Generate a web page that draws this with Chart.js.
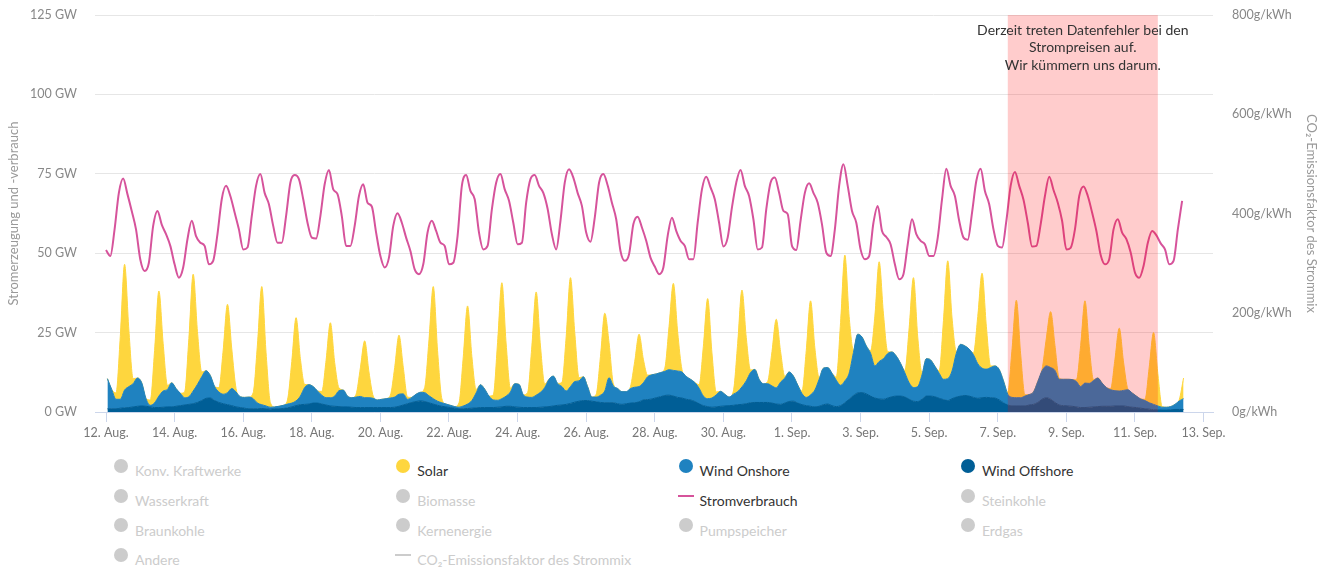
<!DOCTYPE html>
<html lang="de">
<head>
<meta charset="utf-8">
<title>Stromerzeugung und -verbrauch</title>
<script src="https://cdn.jsdelivr.net/npm/chart.js@4.4.1/dist/chart.umd.min.js"></script>
<style>
  html, body { margin: 0; padding: 0; background: #fff; }
  #wrap { position: relative; width: 1333px; height: 569px; overflow: hidden; }
  #chart { position: absolute; left: 0; top: 0; }
  #legend {
    position: absolute; left: 113px; top: 456px;
    display: grid; grid-template-columns: repeat(4, 282.3px); grid-auto-rows: 29.7px;
    font: 14px Lato, sans-serif;
  }
  .item { display: flex; align-items: center; color: #333; white-space: nowrap; }
  .item.off { color: #cccccc; }
  .sym { width: 16px; height: 14px; margin-right: 6px; position: relative; top: -5px; flex: none; }
  .sym.dot::after { content: ''; position: absolute; left: 1px; top: 0; width: 14px; height: 14px; border-radius: 50%; background: var(--c); }
  .sym.line::after { content: ''; position: absolute; left: 0; top: 6px; width: 16px; height: 2px; background: var(--c); }
</style>
</head>
<body>
<div id="wrap">
  <canvas id="chart" width="1333" height="450"></canvas>
  <div id="legend"></div>
</div>
<script>
// time axis: hours after 12 Aug 00:00
const axisMinHour = -7.7;
const axisMaxHour = 774.6;
const tickHours = [0, 48, 96, 144, 192, 240, 288, 336, 384, 432, 480, 528, 576, 624, 672, 720, 768];
const tickLabels = ['12. Aug.', '14. Aug.', '16. Aug.', '18. Aug.', '20. Aug.', '22. Aug.', '24. Aug.', '26. Aug.',
  '28. Aug.', '30. Aug.', '1. Sep.', '3. Sep.', '5. Sep.', '7. Sep.', '9. Sep.', '11. Sep.', '13. Sep.'];

// generation samples at 01, 04, 07, ... 22 h; load samples at 00, 03, ... 21 h
const genFirstHour = 1;
const loadFirstHour = 0;
const stepHours = 3;

// GW, one row per day (12 Aug .. 12 Sep)
const windOffshore = [
  1.0, 1.0, 1.0, 1.2, 1.3, 1.4, 1.6, 1.8,
  1.9, 1.8, 1.6, 1.4, 1.4, 1.5, 1.6, 1.6,
  1.8, 2.0, 2.2, 2.4, 2.6, 3.0, 3.6, 4.3,
  4.4, 3.6, 3.0, 2.6, 2.3, 2.0, 1.6, 1.4,
  1.2, 1.0, 1.0, 1.0, 1.1, 1.0, 0.9, 1.0,
  1.0, 1.1, 1.3, 1.6, 2.0, 2.3, 2.4, 2.5,
  2.8, 2.8, 2.5, 2.2, 1.9, 1.8, 1.7, 1.6,
  1.6, 1.5, 1.4, 1.4, 1.4, 1.4, 1.4, 1.4,
  1.4, 1.4, 1.4, 1.5, 1.8, 2.2, 2.6, 3.0,
  3.3, 3.5, 3.3, 2.9, 2.5, 2.1, 1.8, 1.6,
  1.4, 1.2, 1.0, 1.0, 1.1, 1.2, 1.3, 1.4,
  1.4, 1.4, 1.4, 1.5, 1.6, 1.8, 1.8, 1.6,
  1.5, 1.4, 1.4, 1.4, 1.4, 1.5, 1.6, 1.7,
  1.9, 2.1, 2.2, 2.4, 2.7, 3.1, 3.4, 3.6,
  3.6, 3.4, 3.2, 3.0, 2.9, 2.9, 2.9, 2.6,
  2.4, 2.6, 2.8, 2.9, 3.2, 3.8, 3.9, 4.1,
  4.5, 4.8, 5.2, 5.3, 5.0, 4.6, 4.4, 4.0,
  3.8, 3.3, 2.6, 2.0, 1.7, 1.5, 1.6, 1.8,
  1.9, 2.0, 2.1, 2.3, 2.4, 2.6, 2.9, 3.0,
  3.0, 3.0, 3.0, 2.8, 2.5, 2.4, 2.8, 3.3,
  3.4, 2.8, 2.3, 2.0, 1.8, 1.6, 1.8, 2.3,
  2.5, 2.0, 1.7, 2.0, 2.9, 4.0, 5.2, 6.0,
  6.1, 5.7, 5.0, 4.4, 4.1, 4.0, 4.4, 4.8,
  5.0, 5.0, 4.7, 4.0, 3.4, 3.3, 4.0, 5.0,
  5.0, 4.8, 4.3, 3.9, 3.6, 4.2, 4.7, 5.0,
  5.2, 5.0, 4.6, 4.3, 4.5, 4.6, 4.5, 4.4,
  3.8, 2.9, 2.2, 1.9, 1.9, 1.9, 1.9, 2.2,
  2.4, 3.0, 4.0, 4.5, 4.0, 3.0, 2.2, 2.0,
  1.9, 1.8, 1.6, 1.4, 1.4, 1.5, 1.6, 1.7,
  1.8, 1.8, 1.8, 1.9, 1.9, 1.9, 1.7, 1.5,
  1.4, 1.2, 1.0, 0.9, 0.7, 0.7, 0.6, 0.6,
  0.7, 0.8, 0.8, 0.8
];

const windOnshore = [
  9.5, 6.1, 3.0, 2.8, 5.6, 6.6, 7.3, 8.9,
  7.3, 2.4, 0.5, 1.5, 3.6, 5.1, 5.5, 7.6,
  5.6, 3.9, 2.3, 2.4, 4.0, 5.7, 7.5, 8.7,
  7.1, 4.4, 3.3, 3.0, 3.8, 5.4, 4.7, 3.4,
  3.4, 3.7, 3.2, 1.8, 1.2, 0.9, 0.6, 0.6,
  0.8, 1.0, 1.2, 1.2, 1.5, 2.7, 5.3, 6.1,
  5.2, 3.8, 2.8, 2.3, 2.6, 3.2, 5.0, 5.3,
  3.4, 3.0, 3.3, 3.5, 3.1, 3.1, 2.9, 2.4,
  2.6, 2.8, 3.0, 3.2, 3.8, 3.5, 1.4, 1.6,
  2.3, 2.7, 2.8, 2.2, 1.7, 1.3, 1.1, 0.9,
  0.7, 0.5, 0.5, 0.9, 1.4, 2.4, 4.7, 7.2,
  5.8, 3.6, 2.4, 2.2, 2.6, 3.2, 4.5, 7.3,
  7.2, 4.0, 3.3, 3.2, 3.9, 4.7, 6.1, 8.6,
  9.4, 6.9, 5.8, 4.2, 5.3, 6.5, 6.4, 7.5,
  4.4, 1.3, 1.5, 2.3, 3.7, 7.9, 5.3, 4.8,
  4.0, 3.8, 4.6, 4.9, 4.8, 5.4, 7.2, 7.6,
  7.5, 7.6, 7.6, 8.0, 8.1, 8.3, 8.2, 7.2,
  6.5, 6.0, 4.9, 3.0, 2.5, 2.9, 3.8, 4.7,
  3.7, 2.7, 3.5, 4.1, 5.5, 7.2, 9.5, 10.4,
  7.3, 5.9, 5.9, 5.4, 5.1, 7.0, 7.9, 9.3,
  7.9, 5.7, 3.5, 2.6, 3.6, 5.3, 8.5, 11.5,
  11.5, 10.2, 8.3, 6.4, 6.9, 8.2, 13.5, 18.5,
  17.5, 15.1, 13.5, 10.1, 11.8, 12.8, 14.0, 14.1,
  12.6, 10.3, 7.6, 5.2, 4.3, 4.7, 7.7, 11.8,
  11.4, 9.6, 7.9, 6.4, 6.9, 8.7, 13.8, 16.3,
  15.6, 14.8, 13.4, 10.9, 9.3, 8.9, 9.5, 10.1,
  9.6, 6.9, 3.4, 2.7, 2.6, 2.6, 3.1, 3.3,
  3.9, 6.6, 9.0, 10.0, 10.0, 10.1, 8.1, 8.3,
  8.4, 8.4, 8.0, 6.6, 7.7, 7.5, 8.3, 9.0,
  7.3, 5.9, 5.2, 4.8, 4.7, 4.9, 5.3, 4.5,
  3.6, 2.9, 2.6, 2.0, 1.7, 1.2, 0.9, 0.9,
  1.0, 1.6, 2.7, 3.4
];

const solar = [
  0, 0, 2.0, 19.8, 39.6, 17.8, 1.6, 0,
  0, 0, 1.7, 16.5, 33.1, 14.9, 1.3, 0,
  0, 0, 1.8, 18.4, 36.8, 16.6, 1.5, 0,
  0, 0, 1.4, 13.9, 27.8, 12.5, 1.1, 0,
  0, 0, 1.9, 18.6, 37.2, 16.7, 1.5, 0,
  0, 0, 1.3, 13.1, 26.2, 11.8, 1.0, 0,
  0, 0, 1.2, 11.8, 23.6, 10.6, 0.9, 0,
  0, 0, 0.9, 9.0, 17.9, 8.1, 0.7, 0,
  0, 0, 0.9, 9.3, 18.6, 8.4, 0.7, 0,
  0, 0, 1.6, 17.6, 35.3, 15.9, 1.3, 0,
  0, 0, 1.4, 15.5, 30.9, 13.9, 1.1, 0,
  0, 0, 1.6, 18.2, 36.5, 16.4, 1.2, 0,
  0, 0, 1.4, 16.2, 32.5, 14.6, 1.1, 0,
  0, 0, 1.3, 17.1, 34.3, 15.4, 1.0, 0,
  0, 0, 0.9, 12.2, 24.5, 11.0, 0.7, 0,
  0, 0, 0.6, 8.2, 16.5, 7.4, 0.5, 0,
  0, 0, 1.0, 13.7, 27.4, 12.3, 0.8, 0,
  0, 0, 1.1, 15.7, 31.5, 14.2, 0.9, 0,
  0, 0, 1.0, 15.2, 30.5, 13.7, 0.8, 0,
  0, 0, 0.7, 10.8, 21.6, 9.7, 0.5, 0,
  0, 0, 0.8, 14.8, 29.6, 13.3, 0.6, 0,
  0, 0, 1.0, 19.8, 39.6, 17.8, 0.8, 0,
  0, 0, 0.8, 15.7, 31.4, 14.1, 0.6, 0,
  0, 0, 0.8, 17.3, 34.6, 15.6, 0.6, 0,
  0, 0, 0.8, 18.5, 37.1, 16.7, 0.6, 0,
  0, 0, 0.6, 14.9, 29.9, 13.5, 0.5, 0,
  0, 0, 0.6, 15.3, 30.7, 13.8, 0.4, 0,
  0, 0, 0.4, 8.8, 17.6, 7.9, 0.3, 0,
  0, 0, 0.5, 12.9, 25.9, 11.6, 0.3, 0,
  0, 0, 0.4, 9.9, 19.8, 8.9, 0.2, 0,
  0, 0, 0.4, 11.3, 22.6, 10.2, 0.2, 0,
  0, 0, 0.4, 6.5
];

const consumption = [
  51.0, 49.1, 57.5, 69.0, 73.5, 68.6, 63.3, 57.5,
  48.0, 44.4, 47.0, 58.6, 63.3, 59.0, 56.0, 52.3,
  46.5, 42.3, 45.5, 54.4, 60.2, 55.4, 53.3, 52.3,
  46.5, 47.6, 56.0, 67.0, 71.2, 68.0, 62.8, 57.5,
  51.2, 51.8, 61.7, 71.2, 74.9, 69.0, 65.4, 58.6,
  53.3, 53.3, 61.7, 72.2, 74.6, 73.3, 67.0, 59.6,
  54.9, 54.6, 61.7, 71.7, 76.2, 70.1, 68.6, 61.7,
  52.3, 52.3, 58.6, 68.0, 71.7, 65.9, 64.7, 56.5,
  49.1, 45.5, 48.6, 58.6, 62.6, 59.6, 54.9, 50.7,
  44.9, 43.4, 46.5, 56.5, 60.2, 57.0, 53.3, 52.3,
  46.5, 47.0, 55.4, 71.2, 74.6, 69.6, 67.0, 56.5,
  51.2, 52.3, 63.8, 72.2, 74.9, 70.1, 66.5, 59.6,
  52.8, 53.3, 65.9, 73.3, 74.6, 71.2, 69.0, 64.0,
  56.0, 51.2, 60.2, 72.2, 76.4, 73.8, 69.0, 64.9,
  56.5, 53.6, 61.2, 72.2, 74.9, 71.4, 65.9, 60.7,
  50.7, 47.6, 49.7, 59.1, 61.5, 58.1, 53.9, 48.6,
  45.8, 43.4, 45.5, 55.4, 61.2, 57.0, 53.9, 52.3,
  48.1, 48.1, 59.6, 70.1, 74.1, 70.7, 67.0, 59.6,
  52.1, 54.9, 64.4, 72.2, 76.2, 71.2, 68.0, 60.7,
  51.2, 51.8, 63.8, 72.2, 73.8, 69.0, 63.3, 62.3,
  52.3, 51.0, 60.2, 69.0, 72.0, 69.0, 65.9, 59.1,
  50.2, 49.1, 57.5, 71.2, 78.0, 71.2, 63.3, 59.6,
  51.2, 48.1, 49.1, 59.6, 64.9, 57.0, 55.1, 52.8,
  46.5, 41.8, 43.4, 52.8, 60.7, 56.0, 53.9, 52.8,
  49.1, 49.1, 54.9, 67.0, 76.6, 71.2, 68.0, 60.2,
  54.9, 54.2, 62.8, 72.8, 76.6, 69.6, 65.4, 57.5,
  52.3, 51.8, 60.2, 71.2, 75.6, 71.2, 66.8, 59.6,
  52.1, 52.3, 59.1, 68.0, 74.1, 69.9, 65.9, 60.2,
  51.2, 51.7, 57.5, 68.0, 71.0, 68.0, 62.8, 57.0,
  49.4, 46.5, 48.1, 57.5, 60.7, 56.5, 54.4, 50.2,
  43.9, 42.3, 46.0, 53.3, 57.0, 55.6, 53.1, 51.2,
  46.5, 47.6, 57.5, 66.5
];

// red band: data errors on prices, 7 Sep 07:00 .. 11 Sep 16:00
const bandStartHour = 631;
const bandEndHour = 736;
const bandNote = ['Derzeit treten Datenfehler bei den', 'Strompreisen auf.', 'Wir kümmern uns darum.'];

const legendOrder = [
  'Konv. Kraftwerke', 'Solar', 'Wind Onshore', 'Wind Offshore',
  'Wasserkraft', 'Biomasse', 'Stromverbrauch', 'Steinkohle',
  'Braunkohle', 'Kernenergie', 'Pumpspeicher', 'Erdgas',
  'Andere', 'CO₂-Emissionsfaktor des Strommix'
];

const hiddenSeries = ['Konv. Kraftwerke', 'Wasserkraft', 'Braunkohle', 'Andere', 'Biomasse', 'Kernenergie',
  'Pumpspeicher', 'Steinkohle', 'Erdgas'];

function toPoints(values, firstHour) {
  return values.map((v, i) => ({ x: firstHour + i * stepHours, y: v }));
}

Chart.defaults.font.family = 'Lato, sans-serif';
Chart.defaults.color = '#777';

const datasets = [
  {
    label: 'Stromverbrauch', data: toPoints(consumption, loadFirstHour), stack: 'load',
    borderColor: '#d6539b', backgroundColor: '#d6539b', borderWidth: 2, fill: false,
    legendType: 'line'
  },
  {
    label: 'Wind Offshore', data: toPoints(windOffshore, genFirstHour), stack: 'gen',
    borderColor: '#005e96', backgroundColor: '#005e96', borderWidth: 1, fill: 'origin'
  },
  {
    label: 'Wind Onshore', data: toPoints(windOnshore, genFirstHour), stack: 'gen',
    borderColor: '#1f82c0', backgroundColor: '#1f82c0', borderWidth: 1, fill: '-1'
  },
  {
    label: 'Solar', data: toPoints(solar, genFirstHour), stack: 'gen',
    borderColor: '#fed63e', backgroundColor: '#fed63e', borderWidth: 1, fill: '-1'
  },
  ...hiddenSeries.map((name) => ({
    label: name, data: [], hidden: true, stack: 'gen', borderColor: '#ccc', backgroundColor: '#ccc'
  })),
  {
    label: 'CO₂-Emissionsfaktor des Strommix', data: [], hidden: true, yAxisID: 'co2',
    borderColor: '#ccc', backgroundColor: '#ccc', legendType: 'line'
  }
];

const bandPlugin = {
  id: 'errorBand',
  afterDatasetsDraw(chart) {
    const { ctx, chartArea, scales } = chart;
    const x0 = scales.x.getPixelForValue(bandStartHour);
    const x1 = scales.x.getPixelForValue(bandEndHour);
    ctx.save();
    ctx.fillStyle = 'rgba(255, 0, 0, 0.2)';
    ctx.fillRect(x0, chartArea.top, x1 - x0, chartArea.bottom - chartArea.top);
    ctx.fillStyle = '#333';
    ctx.font = '14px Lato, sans-serif';
    ctx.textAlign = 'center';
    ctx.textBaseline = 'middle';
    bandNote.forEach((line, i) => {
      ctx.fillText(line, (x0 + x1) / 2, chartArea.top + 15 + i * 17.5);
    });
    ctx.restore();
  }
};

const chart = new Chart(document.getElementById('chart'), {
  type: 'line',
  data: { datasets },
  options: {
    responsive: false,
    animation: false,
    layout: { padding: { top: 15, left: 0, right: 0, bottom: 0 } },
    elements: {
      point: { radius: 0, hoverRadius: 0 },
      line: { tension: 0, cubicInterpolationMode: 'monotone' }
    },
    plugins: { legend: { display: false }, tooltip: { enabled: false } },
    scales: {
      x: {
        type: 'linear',
        min: axisMinHour,
        max: axisMaxHour,
        afterBuildTicks(scale) {
          scale.ticks = tickHours.map((value) => ({ value }));
        },
        afterFit(scale) { scale.height = 38; },
        ticks: {
          autoSkip: false, maxRotation: 0, padding: 3,
          font: { size: 12.5 }, color: '#777',
          callback(value) { return tickLabels[tickHours.indexOf(value)]; }
        },
        grid: { drawOnChartArea: false, drawTicks: true, tickLength: 10, color: '#ccd6eb' },
        border: { display: true, color: '#ccd6eb' }
      },
      y: {
        position: 'left',
        stacked: true,
        min: 0,
        max: 125,
        afterFit(scale) { scale.width = 95; },
        ticks: {
          stepSize: 25, padding: 0, font: { size: 12.5 }, color: '#888',
          callback(value) { return value + ' GW'; }
        },
        // invisible tick marks keep the labels 18px off the plot
        grid: { color: '#e6e6e6', drawTicks: true, tickLength: 18, tickColor: 'rgba(0,0,0,0)' },
        border: { display: false },
        title: {
          display: true, text: 'Stromerzeugung und -verbrauch', color: '#999',
          font: { size: 13 }, padding: { top: 6, bottom: 0 }
        }
      },
      co2: {
        position: 'right',
        min: 0,
        max: 800,
        afterFit(scale) { scale.width = 120; },
        ticks: {
          stepSize: 200, padding: 0, font: { size: 12.5 }, color: '#888',
          callback(value) { return value + 'g/kWh'; }
        },
        grid: { display: true, drawOnChartArea: false, drawTicks: true, tickLength: 19, tickColor: 'rgba(0,0,0,0)' },
        border: { display: false },
        title: {
          display: true, text: 'CO₂-Emissionsfaktor des Strommix', color: '#999',
          font: { size: 13 }, padding: { top: 14, bottom: 0 }
        }
      }
    }
  },
  plugins: [bandPlugin]
});

// legend grid under the chart, same entries as the datasets
const legendEl = document.getElementById('legend');
legendOrder.forEach((name) => {
  const ds = chart.data.datasets.find((d) => d.label === name);
  const item = document.createElement('div');
  item.className = 'item' + (ds.hidden ? ' off' : '');
  const sym = document.createElement('span');
  sym.className = 'sym ' + (ds.legendType === 'line' ? 'line' : 'dot');
  sym.style.setProperty('--c', ds.hidden ? '#cccccc' : ds.borderColor);
  const text = document.createElement('span');
  text.textContent = name;
  item.appendChild(sym);
  item.appendChild(text);
  legendEl.appendChild(item);
});
</script>
</body>
</html>
